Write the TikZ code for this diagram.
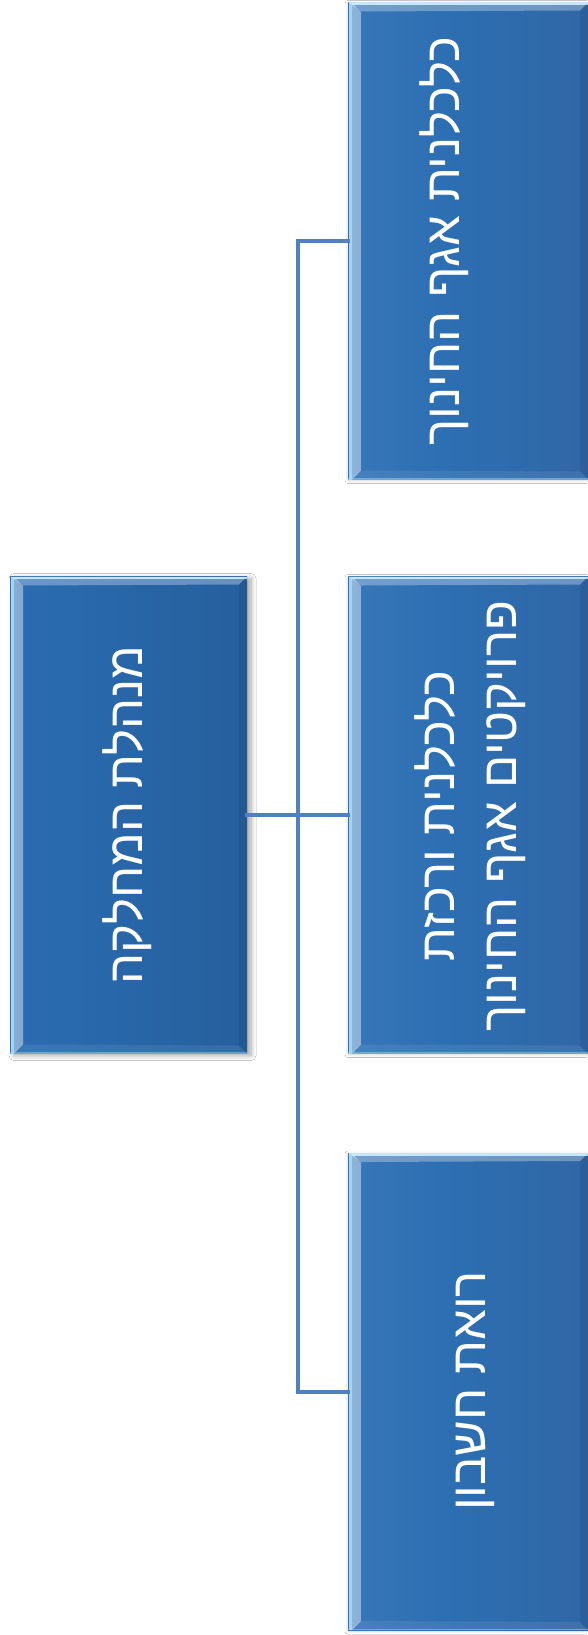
\documentclass[tikz,border=0pt]{standalone}
\usepackage{fontspec}
\newfontfamily\hebfont[Script=Hebrew]{Liberation Sans}
\TeXXeTstate=1
\usetikzlibrary{shadows.blur,fadings}
\definecolor{lineblue}{RGB}{79,129,191}
\definecolor{kidA}{RGB}{72,128,194}
\definecolor{kidB}{RGB}{44,111,178}
\definecolor{kidC}{RGB}{52,96,156}
\definecolor{bossA}{RGB}{50,114,184}
\definecolor{bossB}{RGB}{41,106,174}
\definecolor{bossC}{RGB}{37,88,146}
\definecolor{edgelight}{RGB}{160,214,248}
\definecolor{edgedark}{RGB}{60,110,180}
\pgfdeclarehorizontalshading{kidshade}{100bp}{color(0bp)=(kidA); color(45bp)=(kidB); color(100bp)=(kidC)}
\pgfdeclarehorizontalshading{bossshade}{100bp}{color(0bp)=(bossA); color(35bp)=(bossB); color(100bp)=(bossC)}
\tikzset{
  bevel/.style={path picture={
    % left bevel
    \fill[white,opacity=0.45,path fading=east] ([xshift=4pt]path picture bounding box.north west) -- ([xshift=13pt,yshift=-9pt]path picture bounding box.north west) -- ([xshift=13pt,yshift=9pt]path picture bounding box.south west) -- ([xshift=4pt]path picture bounding box.south west) -- cycle;
    \fill[edgelight] ([xshift=1.2pt]path picture bounding box.north west) rectangle ([xshift=4pt]path picture bounding box.south west);
    \fill[edgedark] (path picture bounding box.north west) rectangle ([xshift=1.2pt]path picture bounding box.south west);
    % top bevel
    \fill[white,opacity=0.3] (path picture bounding box.north west) -- (path picture bounding box.north east) -- ([xshift=-8pt,yshift=-8pt]path picture bounding box.north east) -- ([xshift=13pt,yshift=-9pt]path picture bounding box.north west) -- cycle;
    \fill[edgelight!60!white] ([xshift=4pt]path picture bounding box.north west) rectangle ([yshift=-2.5pt]path picture bounding box.north east);
    % bottom bevel
    \fill[white,opacity=0.08] (path picture bounding box.south west) -- (path picture bounding box.south east) -- ([xshift=-8pt,yshift=8pt]path picture bounding box.south east) -- ([xshift=13pt,yshift=9pt]path picture bounding box.south west) -- cycle;
    \fill[edgelight,opacity=0.5] (path picture bounding box.south west) rectangle ([yshift=1.5pt]path picture bounding box.south east);
    % right bevel
    \fill[black,opacity=0.07] (path picture bounding box.north east) -- ([xshift=-8pt,yshift=-8pt]path picture bounding box.north east) -- ([xshift=-8pt,yshift=8pt]path picture bounding box.south east) -- (path picture bounding box.south east) -- cycle;
  }},
  kidbox/.style={rectangle, inner sep=0pt, minimum width=240pt, minimum height=477pt, shading=kidshade, bevel,
    blur shadow={shadow xshift=0pt, shadow yshift=-1pt, shadow blur steps=6, shadow blur radius=3pt, shadow opacity=18}},
  bossbox/.style={rectangle, inner sep=0pt, minimum width=237pt, minimum height=477pt, shading=bossshade, bevel,
    blur shadow={shadow xshift=4pt, shadow yshift=-2pt, shadow blur steps=8, shadow blur radius=5pt, shadow opacity=35}},
  txt/.style={text=white, font=\hebfont\fontsize{49}{62}\selectfont, align=center, inner sep=0pt, rotate=90},
  conn/.style={draw=lineblue, line width=4pt, line cap=rect}
}
\begin{document}
\begin{tikzpicture}[x=1pt,y=-1pt]
\fill[white] (0,0) rectangle (587,1635);
\useasboundingbox (0,0) rectangle (587,1635);
% boxes
\node[bossbox] (boss) at (128.5,815) {};
\node[kidbox] (c1) at (468,241) {};
\node[kidbox] (c2) at (468,815) {};
\node[kidbox] (c3) at (468,1391.5) {};
% connectors
\coordinate (split) at (298,815);
\draw[conn] (boss.east) -- (split);
\draw[conn] (split) |- (c1.west);
\draw[conn] (split) -- (c2.west);
\draw[conn] (split) |- (c3.west);
% texts
\node[txt] (t0) at (127,815) {\beginR מנהלת המחלקה\endR};
\node[txt] (t1) at (444,241) {\beginR כלכלנית אגף החינוך\endR};
\node[txt] (t2) at (470,816) {\beginR כלכלנית ורכזת\endR\\\beginR פרויקטים אגף החינוך\endR};
\node[txt] (t3) at (475,1391) {\beginR רואת חשבון\endR};
\end{tikzpicture}
\end{document}
